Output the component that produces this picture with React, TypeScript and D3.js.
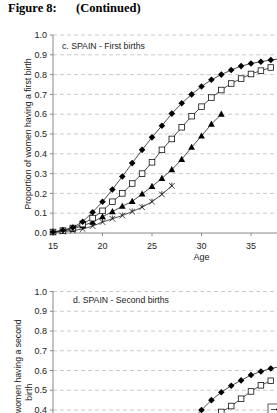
import React from 'react';
import * as d3 from 'd3';

// First births, Spain (cumulative proportion by age)
const firstAgesA = [15, 16, 17, 18, 19, 20, 21, 22, 23, 24, 25, 26, 27, 28, 29, 30, 31, 32, 33, 34, 35, 36, 37, 38];
const firstDiamond = [0.005, 0.014, 0.028, 0.057, 0.105, 0.158, 0.22, 0.285, 0.353, 0.42, 0.483, 0.542, 0.603, 0.655, 0.7, 0.74, 0.774, 0.8, 0.823, 0.843, 0.856, 0.865, 0.874, 0.88];
const firstAgesB = [15, 16, 17, 18, 19, 20, 21, 22, 23, 24, 25, 26, 27, 28, 29, 30, 31, 32, 33, 34, 35, 36, 37];
const firstSquare = [0.005, 0.012, 0.025, 0.045, 0.075, 0.112, 0.158, 0.2, 0.25, 0.3, 0.357, 0.42, 0.475, 0.534, 0.59, 0.638, 0.684, 0.722, 0.755, 0.78, 0.803, 0.82, 0.836];
const firstAgesC = [15, 16, 17, 18, 19, 20, 21, 22, 23, 24, 25, 26, 27, 28, 29, 30, 31, 32];
const firstTriangle = [0.005, 0.01, 0.02, 0.037, 0.055, 0.082, 0.108, 0.135, 0.16, 0.197, 0.235, 0.276, 0.32, 0.372, 0.433, 0.49, 0.55, 0.6];
const firstAgesD = [15, 16, 17, 18, 19, 20, 21, 22, 23, 24, 25, 26, 27];
const firstStar = [0.003, 0.007, 0.012, 0.02, 0.035, 0.055, 0.072, 0.088, 0.108, 0.13, 0.158, 0.195, 0.238];

// Second births, Spain
const secondAgesA = [28, 29, 30, 31, 32, 33, 34, 35, 36, 37, 38];
const secondDiamond = [0.3, 0.35, 0.4, 0.45, 0.49, 0.523, 0.55, 0.577, 0.595, 0.61, 0.62];
const secondAgesB = [30, 31, 32, 33, 34, 35, 36, 37];
const secondSquare = [0.31, 0.35, 0.39, 0.42, 0.457, 0.494, 0.525, 0.548];

const yTicks = [0, 0.1, 0.2, 0.3, 0.4, 0.5, 0.6, 0.7, 0.8, 0.9, 1.0];
const xTicks = [15, 20, 25, 30, 35];

const FONT = 'Liberation Sans, Arial, sans-serif';
const W = 277;
const H = 413;

const x = d3.scaleLinear().domain([15, 40]).range([53, 300.5]);
const yTop = d3.scaleLinear().domain([0, 1]).range([233, 35]);
const yBottom = d3.scaleLinear().domain([0, 1]).range([489, 291.5]);

type Marker = 'diamond' | 'square' | 'triangle' | 'star';

function MarkerShape({ kind, cx, cy }: { kind: Marker; cx: number; cy: number }) {
  const t = `translate(${cx},${cy})`;
  if (kind === 'diamond') return <path transform={t} d="M0,-3.3L3.3,0L0,3.3L-3.3,0Z" fill="#000" />;
  if (kind === 'square') return <rect transform={t} x={-2.8} y={-2.8} width={5.6} height={5.6} fill="#fff" stroke="#111" strokeWidth={0.8} />;
  if (kind === 'triangle') return <path transform={t} d="M0,-3.6L3.4,2.6L-3.4,2.6Z" fill="#000" />;
  return (
    <path transform={t} d="M-2.8,-2.8L2.8,2.8M-2.8,2.8L2.8,-2.8M0,-3.2L0,0" stroke="#111" strokeWidth={0.8} fill="none" />
  );
}

function Series({ ages, values, y, kind }: { ages: number[]; values: number[]; y: d3.ScaleLinear<number, number>; kind: Marker }) {
  const pts = ages.map((a, i) => [x(a), y(values[i])] as [number, number]);
  const line = d3.line();
  return (
    <g>
      <path d={line(pts) ?? ''} fill="none" stroke="#222" strokeWidth={0.8} />
      {pts.map((p, i) => (
        <MarkerShape key={i} kind={kind} cx={p[0]} cy={p[1]} />
      ))}
    </g>
  );
}

function Frame({ y, showX }: { y: d3.ScaleLinear<number, number>; showX: boolean }) {
  const [y0] = y.range();
  return (
    <g>
      {yTicks.filter(v => v > 0).map(v => (
        <line key={v} x1={x(15)} x2={W} y1={y(v)} y2={y(v)} stroke="#bdbdbd" strokeWidth={0.8} strokeDasharray="4,3" />
      ))}
      <line x1={x(15)} x2={x(15)} y1={y(1)} y2={Math.min(y0, H + 5)} stroke="#888" strokeWidth={1} />
      {yTicks.map(v => (
        <g key={v} transform={`translate(0,${y(v)})`}>
          <line x1={x(15) - 3} x2={x(15)} stroke="#888" strokeWidth={1} />
          <text x={47} dy="0.35em" textAnchor="end" fontSize={9} fontFamily={FONT} fill="#222">
            {d3.format('.1f')(v)}
          </text>
        </g>
      ))}
      {showX && (
        <g>
          <line x1={x(15)} x2={W} y1={y0} y2={y0} stroke="#888" strokeWidth={1} />
          {xTicks.map(t => (
            <g key={t} transform={`translate(${x(t)},${y0})`}>
              <line y1={0} y2={3} stroke="#888" strokeWidth={1} />
              <text y={16} textAnchor="middle" fontSize={9} fontFamily={FONT} fill="#222">{t}</text>
            </g>
          ))}
        </g>
      )}
    </g>
  );
}

export default function App() {
  return (
    <svg width={W} height={H} style={{ position: 'absolute', left: 0, top: 0, background: '#fff' }}>
      <rect width={W} height={H} fill="#fff" />
      <text x={8} y={12} fontFamily="Liberation Serif, Times New Roman, serif" fontWeight="bold" fontSize={12.5} fill="#000">
        Figure 8:
      </text>
      <text x={76} y={12} fontFamily="Liberation Serif, Times New Roman, serif" fontWeight="bold" fontSize={12.5} fill="#000">
        (Continued)
      </text>

      {/* c. first births */}
      <Frame y={yTop} showX={true} />
      <text x={62} y={49} fontSize={8.7} fontFamily={FONT} fill="#222">c. SPAIN - First births</text>
      <text transform={`translate(31,${yTop(0.5)}) rotate(-90)`} textAnchor="middle" fontSize={8.7} fontFamily={FONT} fill="#222">
        Proportion of women having a first birth
      </text>
      <text x={x(30)} y={260} textAnchor="middle" fontSize={9} fontFamily={FONT} fill="#222">Age</text>
      <Series ages={firstAgesD} values={firstStar} y={yTop} kind="star" />
      <Series ages={firstAgesC} values={firstTriangle} y={yTop} kind="triangle" />
      <Series ages={firstAgesB} values={firstSquare} y={yTop} kind="square" />
      <Series ages={firstAgesA} values={firstDiamond} y={yTop} kind="diamond" />

      {/* d. second births */}
      <Frame y={yBottom} showX={false} />
      <text x={73} y={303} fontSize={8.7} fontFamily={FONT} fill="#222">d. SPAIN - Second births</text>
      <text transform={`translate(21,${yBottom(0.49)}) rotate(-90)`} textAnchor="middle" fontSize={8.7} fontFamily={FONT} fill="#222">
        Proportion of women having a second
      </text>
      <text transform={`translate(32,${yBottom(0.49)}) rotate(-90)`} textAnchor="middle" fontSize={8.7} fontFamily={FONT} fill="#222">
        birth
      </text>
      <Series ages={secondAgesB} values={secondSquare} y={yBottom} kind="square" />
      <Series ages={secondAgesA} values={secondDiamond} y={yBottom} kind="diamond" />
      <g>
        <rect x={268} y={404} width={40} height={40} fill="#fff" stroke="#333" strokeWidth={0.8} />
        <line x1={271} x2={287} y1={409.5} y2={409.5} stroke="#222" strokeWidth={0.8} />
        <MarkerShape kind="diamond" cx={279} cy={409.5} />
      </g>
    </svg>
  );
}
